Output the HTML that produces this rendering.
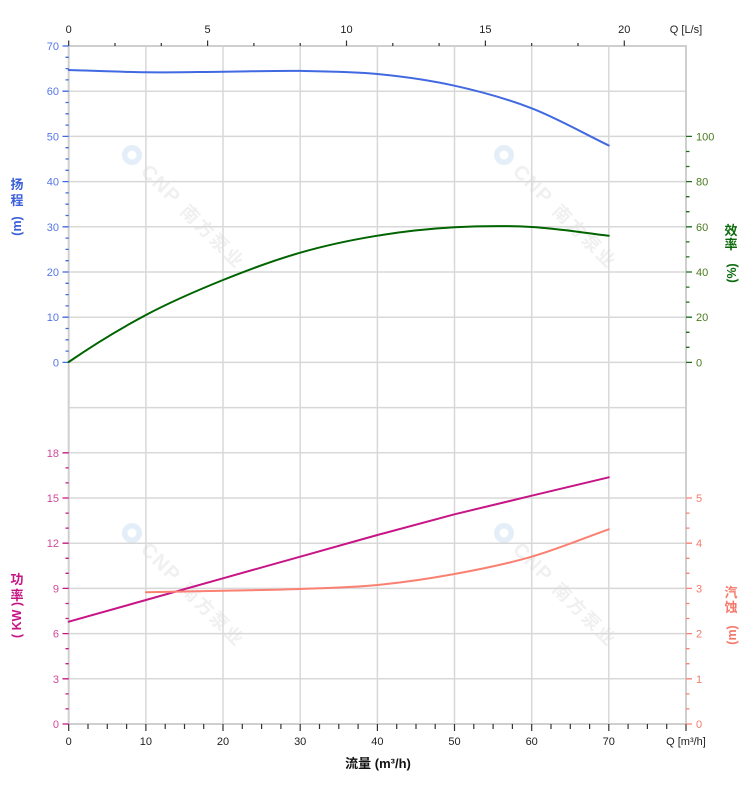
<!DOCTYPE html>
<html><head><meta charset="utf-8"><style>
html,body{margin:0;padding:0;background:#fff;}
svg{display:block;font-family:"Liberation Sans","Noto Sans CJK SC",sans-serif;}
</style></head><body>
<svg width="752" height="797" viewBox="0 0 752 797" xmlns="http://www.w3.org/2000/svg">
<rect width="752" height="797" fill="#fff"/>
<!-- watermarks -->
<g fill="#f0f0f0" font-weight="bold" font-family="'Liberation Sans','Noto Sans CJK SC',sans-serif">
  <g transform="translate(132,155) rotate(45)"><circle r="10" fill="#e4eef8"/><circle r="4.5" fill="#fff"/><text x="18" y="7" font-size="20" letter-spacing="1.5">CNP</text><text x="74" y="7" font-size="18" letter-spacing="2.5">南方泵业</text></g>
  <g transform="translate(504,155) rotate(45)"><circle r="10" fill="#e4eef8"/><circle r="4.5" fill="#fff"/><text x="18" y="7" font-size="20" letter-spacing="1.5">CNP</text><text x="74" y="7" font-size="18" letter-spacing="2.5">南方泵业</text></g>
  <g transform="translate(132,533) rotate(45)"><circle r="10" fill="#e4eef8"/><circle r="4.5" fill="#fff"/><text x="18" y="7" font-size="20" letter-spacing="1.5">CNP</text><text x="74" y="7" font-size="18" letter-spacing="2.5">南方泵业</text></g>
  <g transform="translate(504,533) rotate(45)"><circle r="10" fill="#e4eef8"/><circle r="4.5" fill="#fff"/><text x="18" y="7" font-size="20" letter-spacing="1.5">CNP</text><text x="74" y="7" font-size="18" letter-spacing="2.5">南方泵业</text></g>
</g>
<!-- grid -->
<g stroke="#d8d8d8" stroke-width="1.5" fill="none">
  <path d="M68.7 91.2H686M68.7 136.4H686M68.7 181.6H686M68.7 226.8H686M68.7 272H686M68.7 317.2H686M68.7 362.4H686M68.7 407.6H686M68.7 452.8H686M68.7 498H686M68.7 543.2H686M68.7 588.4H686M68.7 633.6H686M68.7 678.8H686"/>
  <path d="M145.9 46V724M223 46V724M300.2 46V724M377.4 46V724M454.5 46V724M531.7 46V724M608.8 46V724"/>
</g>
<g stroke="#cfcfcf" stroke-width="2" fill="none">
  <path d="M68.7 46H686V724H68.7Z"/>
</g>
<!-- top ticks -->
<g stroke="#333" stroke-width="1.2">
  <path d="M68.7 40.5V46M207.6 40.5V46M346.5 40.5V46M485.4 40.5V46M624.3 40.5V46"/>
  <path d="M115 43V46M161.3 43V46M253.9 43V46M300.2 43V46M392.8 43V46M439.1 43V46M531.7 43V46M578 43V46"/>
</g>
<g font-size="11" fill="#222" text-anchor="middle">
  <text x="68.7" y="33">0</text><text x="207.6" y="33">5</text><text x="346.5" y="33">10</text><text x="485.4" y="33">15</text><text x="624.3" y="33">20</text>
  <text x="686" y="33">Q [L/s]</text>
</g>
<!-- bottom ticks -->
<g stroke="#333" stroke-width="1.2">
  <path d="M68.7 724V731M145.9 724V731M223 724V731M300.2 724V731M377.4 724V731M454.5 724V731M531.7 724V731M608.8 724V731M686 724V731"/>
  <path d="M88 724V729M107.3 724V729M126.6 724V729M165.2 724V729M184.5 724V729M203.7 724V729M242.3 724V729M261.6 724V729M280.9 724V729M319.5 724V729M338.8 724V729M358.1 724V729M396.7 724V729M416 724V729M435.2 724V729M473.8 724V729M493.1 724V729M512.4 724V729M551 724V729M570.3 724V729M589.6 724V729M628.1 724V729M647.4 724V729M666.7 724V729"/>
</g>
<g font-size="11" fill="#222" text-anchor="middle">
  <text x="68.7" y="745">0</text><text x="145.9" y="745">10</text><text x="223" y="745">20</text><text x="300.2" y="745">30</text><text x="377.4" y="745">40</text><text x="454.5" y="745">50</text><text x="531.7" y="745">60</text><text x="608.8" y="745">70</text>
  <text x="686" y="745">Q [m³/h]</text>
</g>
<text x="378" y="768" font-size="13" font-weight="bold" fill="#111" text-anchor="middle">流量 (m³/h)</text>
<!-- left upper axis (head) -->
<g stroke="#4169e1" stroke-width="1.3">
  <path d="M62.5 46H68.7M62.5 91.2H68.7M62.5 136.4H68.7M62.5 181.6H68.7M62.5 226.8H68.7M62.5 272H68.7M62.5 317.2H68.7M62.5 362.4H68.7"/>
  <path d="M65.5 57.3H68.7M65.5 68.6H68.7M65.5 79.9H68.7M65.5 102.5H68.7M65.5 113.8H68.7M65.5 125.1H68.7M65.5 147.7H68.7M65.5 159H68.7M65.5 170.3H68.7M65.5 192.9H68.7M65.5 204.2H68.7M65.5 215.5H68.7M65.5 238.1H68.7M65.5 249.4H68.7M65.5 260.7H68.7M65.5 283.3H68.7M65.5 294.6H68.7M65.5 305.9H68.7M65.5 328.5H68.7M65.5 339.8H68.7M65.5 351.1H68.7"/>
</g>
<g font-size="11" fill="#5577e6" text-anchor="end">
  <text x="59" y="50">70</text><text x="59" y="95.2">60</text><text x="59" y="140.4">50</text><text x="59" y="185.6">40</text><text x="59" y="230.8">30</text><text x="59" y="276">20</text><text x="59" y="321.2">10</text><text x="59" y="366.4">0</text>
</g>
<g fill="#3a5fdc" font-size="13" font-weight="bold" text-anchor="middle">
  <text x="17" y="189">扬</text><text x="17" y="205">程</text>
  <text transform="translate(17,226) rotate(-90)" dominant-baseline="central" font-size="12.5">(m)</text>
</g>
<!-- left lower axis (power) -->
<g stroke="#c71585" stroke-width="1.3">
  <path d="M62.5 452.8H68.7M62.5 498H68.7M62.5 543.2H68.7M62.5 588.4H68.7M62.5 633.6H68.7M62.5 678.8H68.7M62.5 724H68.7"/>
  <path d="M65.5 467.9H68.7M65.5 482.9H68.7M65.5 513.1H68.7M65.5 528.1H68.7M65.5 558.3H68.7M65.5 573.3H68.7M65.5 603.5H68.7M65.5 618.5H68.7M65.5 648.7H68.7M65.5 663.7H68.7M65.5 693.9H68.7M65.5 708.9H68.7"/>
</g>
<g font-size="11" fill="#d24a9c" text-anchor="end">
  <text x="59" y="456.8">18</text><text x="59" y="502">15</text><text x="59" y="547.2">12</text><text x="59" y="592.4">9</text><text x="59" y="637.6">6</text><text x="59" y="682.8">3</text><text x="59" y="728">0</text>
</g>
<g fill="#c71585" font-size="13" font-weight="bold" text-anchor="middle">
  <text x="17" y="584">功</text><text x="17" y="600">率</text>
  <text transform="translate(17,620) rotate(-90)" dominant-baseline="central" font-size="12.5">( KW )</text>
</g>
<!-- right upper axis (efficiency) -->
<g stroke="#1e6e1e" stroke-width="1.3">
  <path d="M686 362.4H692M686 317.2H692M686 272H692M686 226.8H692M686 181.6H692M686 136.4H692"/>
  <path d="M686 347.3H689.5M686 332.3H689.5M686 302.1H689.5M686 287.1H689.5M686 256.9H689.5M686 241.9H689.5M686 211.7H689.5M686 196.7H689.5M686 166.5H689.5M686 151.5H689.5"/>
</g>
<g font-size="11" fill="#4a7a1e">
  <text x="696" y="366.4">0</text><text x="696" y="321.2">20</text><text x="696" y="276">40</text><text x="696" y="230.8">60</text><text x="696" y="185.6">80</text><text x="696" y="140.4">100</text>
</g>
<g fill="#0b6b0b" font-size="13" font-weight="bold" text-anchor="middle">
  <text x="731" y="235">效</text><text x="731" y="249">率</text>
  <text transform="translate(732,273) rotate(-90)" dominant-baseline="central" font-size="12.5">(%)</text>
</g>
<!-- right lower axis (NPSH) -->
<g stroke="#fa8072" stroke-width="1.3">
  <path d="M686 724H692M686 678.8H692M686 633.6H692M686 588.4H692M686 543.2H692M686 498H692"/>
  <path d="M686 708.9H689.5M686 693.9H689.5M686 663.7H689.5M686 648.7H689.5M686 618.5H689.5M686 603.5H689.5M686 573.3H689.5M686 558.3H689.5M686 528.1H689.5M686 513.1H689.5"/>
</g>
<g font-size="11" fill="#f47a6c">
  <text x="696" y="728">0</text><text x="696" y="682.8">1</text><text x="696" y="637.6">2</text><text x="696" y="592.4">3</text><text x="696" y="547.2">4</text><text x="696" y="502">5</text>
</g>
<g fill="#f47a6c" font-size="13" font-weight="bold" text-anchor="middle">
  <text x="731" y="597">汽</text><text x="731" y="612">蚀</text>
  <text transform="translate(732,635) rotate(-90)" dominant-baseline="central" font-size="12.5">(m)</text>
</g>
<!-- curves -->
<g fill="none" stroke-width="2" stroke-linecap="round" stroke-linejoin="round">
  <path stroke="#4169e1" d="M68.7 70C94.4 70.8 120.2 72 145.9 72.3C171.6 72.6 197.3 71.9 223 71.7C248.7 71.5 274.5 70.6 300.2 70.9C325.9 71.4 351.7 71.55 377.4 74C403.1 76.45 428.8 79.98 454.5 85.7C480.2 91.42 506 98.33 531.7 108.3C557.4 118.27 583.1 133.1 608.8 145.5"/>
  <path stroke="#006400" d="M68.7 362C94.4 344.3 120.2 328.7 145.9 315C171.6 301.3 197.3 290.4 223 280C248.7 269.6 274.5 260.1 300.2 252.7C325.9 245.3 351.7 239.9 377.4 235.7C403.1 231.5 428.8 228.75 454.5 227.3C480.2 225.85 506 225.6 531.7 227C557.4 228.4 583.1 232.8 608.8 235.7"/>
  <polyline stroke="#c71585" points="68.7,621.7 145.9,600 223,578.3 300.2,556.7 377.4,535 454.5,514.3 531.7,495.7 608.8,477.3"/>
  <path stroke="#fa8072" d="M145.9 592.3C171.6 591.8 197.3 591.25 223 590.7C248.7 590.15 274.5 589.95 300.2 589C325.9 588.05 351.7 587.5 377.4 585C403.1 582.5 428.8 578.7 454.5 574C480.2 569.3 506 564.15 531.7 556.7C557.4 549.25 583.1 538.4 608.8 529.3"/>
</g>
</svg>
</body></html>
